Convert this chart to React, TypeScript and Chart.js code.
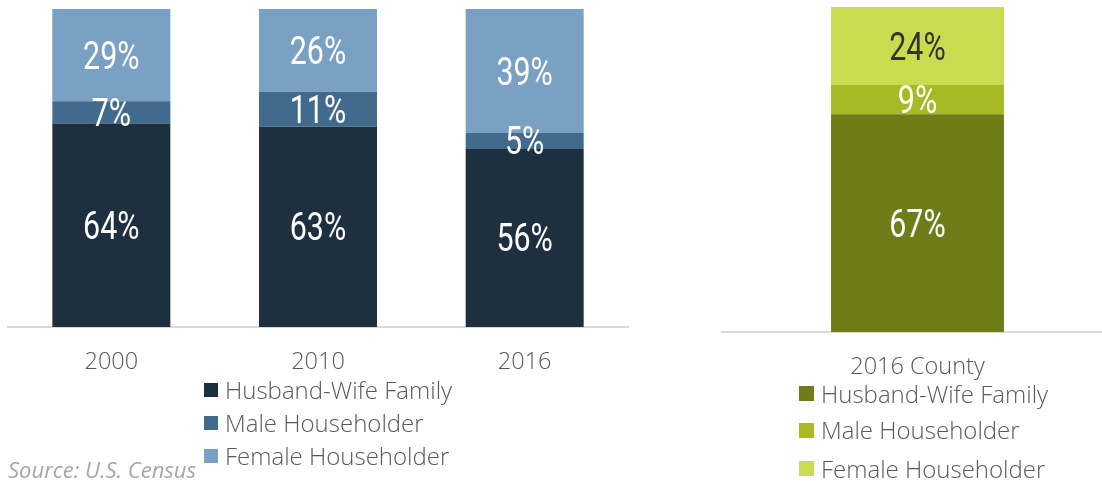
import React, { useEffect, useRef } from 'react';
import { Chart, registerables } from 'chart.js';

Chart.register(...registerables);

// ---- Data ----
const cityCategories = ['2000', '2010', '2016'];
const cityHusbandWife = [64, 63, 56];
const cityMale = [7, 11, 5];
const cityFemale = [29, 26, 39];

const countyCategories = ['2016 County'];
const countyHusbandWife = [67];
const countyMale = [9];
const countyFemale = [24];

const seriesNames = ['Husband-Wife Family', 'Male Householder', 'Female Householder'];
const sourceText = 'Source: U.S. Census';

// ---- Styles ----
const cityColors = ['#1e2f3f', '#426a8c', '#7aa1c3'];
const countyColors = ['#6f7d19', '#a7ba24', '#c9db4f'];
const cityLabelColors = ['#ffffff', '#ffffff', '#ffffff'];
const countyLabelColors = ['#ffffff', '#ffffff', '#333333'];

const segmentLabels = {
  id: 'segmentLabels',
  afterDatasetsDraw(chart: any, _args: any, opts: any) {
    const ctx = chart.ctx;
    chart.data.datasets.forEach((ds: any, di: number) => {
      const meta = chart.getDatasetMeta(di);
      meta.data.forEach((el: any, i: number) => {
        const v = ds.data[i];
        const y = (el.y + el.base) / 2;
        ctx.save();
        ctx.translate(el.x, y + 13.5);
        ctx.scale(0.8, 1);
        ctx.font = '400 38px Roboto';
        ctx.fillStyle = opts.colors[di];
        ctx.textAlign = 'center';
        ctx.textBaseline = 'alphabetic';
        ctx.fillText(v + '%', 0, 0);
        ctx.restore();
      });
    });
  },
};

type PanelProps = {
  categories: string[];
  series: number[][];
  colors: string[];
  labelColors: string[];
  width: number;
  height: number;
  padding: { left: number; right: number; top: number; bottom: number };
  barPct: number;
};

function StackedPanel({ categories, series, colors, labelColors, width, height, padding, barPct }: PanelProps) {
  const ref = useRef<HTMLCanvasElement>(null);
  useEffect(() => {
    const chart = new Chart(ref.current!, {
      type: 'bar',
      data: {
        labels: categories,
        datasets: series.map((d, i) => ({
          label: seriesNames[i],
          data: d,
          backgroundColor: colors[i],
          barPercentage: barPct,
          categoryPercentage: 1,
          borderWidth: 0,
        })),
      },
      options: {
        responsive: false,
        maintainAspectRatio: false,
        animation: false,
        layout: { padding },
        plugins: {
          legend: { display: false },
          tooltip: { enabled: false },
          segmentLabels: { colors: labelColors },
        } as any,
        scales: {
          x: {
            stacked: true,
            grid: { display: false, drawTicks: false },
            border: { display: true, color: '#d9d9d9', width: 2 },
            ticks: {
              color: '#595959',
              font: { family: 'Open Sans', size: 23.5, weight: 300 as any },
              padding: 21,
              maxRotation: 0,
            },
            afterFit: (s: any) => {
              s.height = 60;
            },
          },
          y: { stacked: true, display: false, min: 0, max: 100 },
        },
      },
      plugins: [segmentLabels as any],
    });
    return () => chart.destroy();
  }, []);
  return <canvas ref={ref} width={width} height={height} style={{ width, height, display: 'block' }} />;
}

function Legend({ colors, left, textLeft, centers, box }: { colors: string[]; left: number; textLeft: number; centers: number[]; box: number }) {
  return (
    <>
      {seriesNames.map((n, i) => (
        <React.Fragment key={n}>
          <div style={{ position: 'absolute', left, top: centers[i] - box / 2, width: box, height: box, background: colors[i] }} />
          <div
            style={{
              position: 'absolute',
              left: textLeft,
              top: centers[i] - 15,
              height: 30,
              lineHeight: '30px',
              fontFamily: '"Open Sans"',
              fontWeight: 300,
              fontSize: 24,
              color: '#595959',
              whiteSpace: 'nowrap',
            }}
          >
            {n}
          </div>
        </React.Fragment>
      ))}
    </>
  );
}

export default function App() {
  return (
    <div style={{ position: 'fixed', left: 0, top: 0, width: 1102, height: 481, background: '#ffffff', overflow: 'hidden' }}>
      <div style={{ position: 'absolute', left: 0, top: 0, width: 640, height: 481 }}>
        <StackedPanel
          categories={cityCategories}
          series={[cityHusbandWife, cityMale, cityFemale]}
          colors={cityColors}
          labelColors={cityLabelColors}
          width={640}
          height={481}
          padding={{ left: 8, right: 12, top: 9, bottom: 94 }}
          barPct={0.571}
        />
      </div>
      <div style={{ position: 'absolute', left: 721, top: 0, width: 381, height: 481, overflow: 'hidden' }}>
        <StackedPanel
          categories={countyCategories}
          series={[countyHusbandWife, countyMale, countyFemale]}
          colors={countyColors}
          labelColors={countyLabelColors}
          width={393}
          height={481}
          padding={{ left: 0, right: 0, top: 7, bottom: 89 }}
          barPct={0.44}
        />
      </div>
      <Legend colors={cityColors} left={204} textLeft={225} centers={[389.7, 423.3, 455.8]} box={14} />
      <Legend colors={countyColors} left={799} textLeft={821} centers={[393.5, 430, 468.5]} box={15} />
      <div
        style={{
          position: 'absolute',
          left: 8,
          top: 469 - 15,
          height: 30,
          lineHeight: '30px',
          fontFamily: '"Open Sans"',
          fontStyle: 'italic',
          fontSize: 22,
          color: '#a6a6a6',
          whiteSpace: 'nowrap',
        }}
      >
        {sourceText}
      </div>
    </div>
  );
}
